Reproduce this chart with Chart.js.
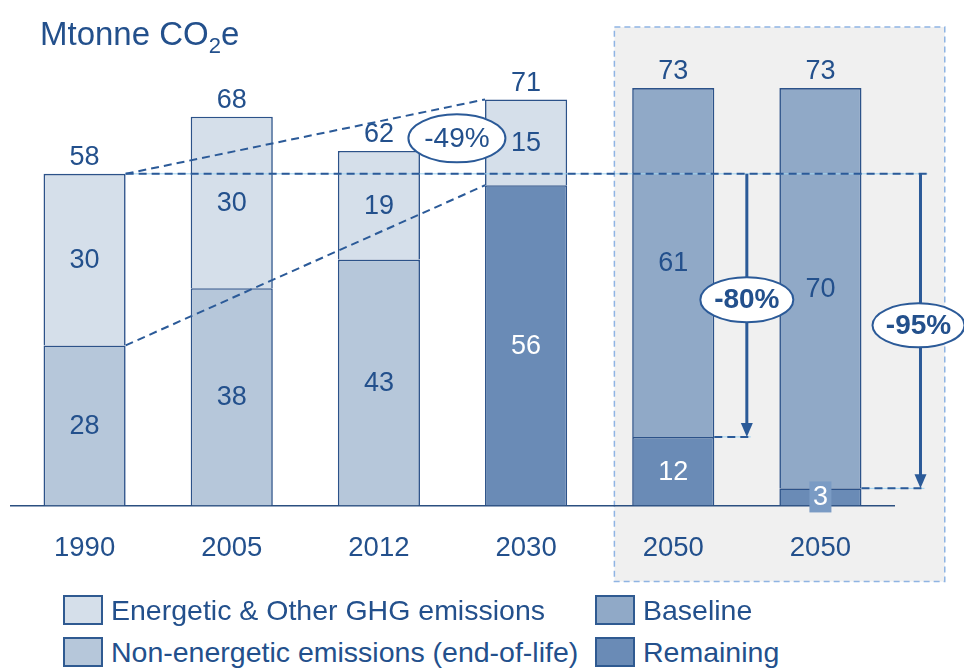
<!DOCTYPE html>
<html lang="en">
<head>
<meta charset="UTF-8">
<title>Mtonne CO2e</title>
<script src="https://cdn.jsdelivr.net/npm/chart.js"></script>
<style>
    body {
        margin: 0;
        background: #fff;
        font-family: 'Liberation Sans', Arial, sans-serif;
        color: #23508c;
    }
    #wrap { position: relative; width: 964px; height: 669px; overflow: hidden; }
    #chart { position: absolute; left: 0; top: 0; }
    .title {
        position: absolute; left: 40px; top: 18px;
        font-size: 33px; line-height: 32px; margin: 0; font-weight: normal;
    }
    .title sub { font-size: 22px; vertical-align: -8px; line-height: 0; }
    .item {
        position: absolute; display: flex; align-items: center; height: 30px;
        font-size: 28.5px; white-space: nowrap;
    }
    .item span.box {
        width: 36px; height: 26px; border: 2px solid #2f5a91; margin-right: 8px;
    }
</style>
</head>
<body>
<div id="wrap">
    <canvas id="chart" width="964" height="600"></canvas>
    <div class="title">Mtonne CO<sub>2</sub>e</div>
    <div id="legend"></div>
</div>

<script>
// categories and values (Mtonne CO2e)
const years = ["1990", "2005", "2012", "2030", "2050", "2050"];
const nonEnergetic = [28, 38, 43, null, null, null];
const remaining = [null, null, null, 56, 12, 3];
const energetic = [30, 30, 19, 15, null, null];
const baseline = [null, null, null, null, 61, 70];
const totals = [58, 68, 62, 71, 73, 73];
const cuts = ["-49%", "-80%", "-95%"];

const dark = "#23508c";
const line = "#2b5a98";
const colors = {
    energetic: "#d5dfea",
    nonEnergetic: "#b6c7da",
    baseline: "#90a9c7",
    remaining: "#6a8bb6"
};

// legend (2 columns)
const legendItems = [
    { label: "Energetic & Other GHG emissions", color: colors.energetic, left: 63, top: 595 },
    { label: "Baseline", color: colors.baseline, left: 595, top: 595 },
    { label: "Non-energetic emissions (end-of-life)", color: colors.nonEnergetic, left: 63, top: 637 },
    { label: "Remaining", color: colors.remaining, left: 595, top: 637 }
];
const legendEl = document.getElementById("legend");
legendItems.forEach(it => {
    const d = document.createElement("div");
    d.className = "item";
    d.style.left = it.left + "px";
    d.style.top = it.top + "px";
    d.innerHTML = '<span class="box" style="background:' + it.color + '"></span>' + it.label;
    legendEl.appendChild(d);
});

function dashed(ctx, x1, y1, x2, y2, under) {
    if (under) {
        ctx.save();
        ctx.strokeStyle = "#9fd4f2";
        ctx.lineWidth = 1;
        ctx.beginPath(); ctx.moveTo(x1, y1); ctx.lineTo(x2, y2); ctx.stroke();
        ctx.restore();
    }
    ctx.save();
    ctx.strokeStyle = line;
    ctx.lineWidth = 2;
    ctx.setLineDash([8, 5]);
    ctx.beginPath(); ctx.moveTo(x1, y1); ctx.lineTo(x2, y2); ctx.stroke();
    ctx.restore();
}

function arrow(ctx, x, y1, y2) {
    ctx.save();
    ctx.strokeStyle = line;
    ctx.fillStyle = line;
    ctx.lineWidth = 3;
    ctx.beginPath(); ctx.moveTo(x, y1); ctx.lineTo(x, y2 - 12); ctx.stroke();
    ctx.beginPath();
    ctx.moveTo(x - 6, y2 - 14); ctx.lineTo(x + 6, y2 - 14); ctx.lineTo(x, y2);
    ctx.closePath(); ctx.fill();
    ctx.restore();
}

function bubble(ctx, x, y, w, h, text, bold) {
    ctx.save();
    ctx.beginPath();
    ctx.ellipse(x, y, w / 2, h / 2, 0, 0, Math.PI * 2);
    ctx.fillStyle = "#fff";
    ctx.fill();
    ctx.lineWidth = 2;
    ctx.strokeStyle = line;
    ctx.stroke();
    ctx.fillStyle = dark;
    ctx.font = (bold ? "bold " : "") + "28px 'Liberation Sans', Arial, sans-serif";
    ctx.textAlign = "center";
    ctx.textBaseline = "middle";
    ctx.fillText(text, x, y + 1);
    ctx.restore();
}

// grey dashed panel behind the two 2050 bars
const panelPlugin = {
    id: "panel",
    beforeDraw(chart) {
        const { ctx, scales: { x, y }, chartArea } = chart;
        const step = x.getPixelForValue(5) - x.getPixelForValue(4);
        const left = x.getPixelForValue(4) - 0.4 * step;
        const right = x.getPixelForValue(5) + 0.845 * step;
        const top = y.getPixelForValue(80) - 21;
        const bottom = chartArea.bottom + 76;
        ctx.save();
        ctx.fillStyle = "#f0f0f0";
        ctx.fillRect(left, top, right - left, bottom - top);
        ctx.strokeStyle = "#8fb4e3";
        ctx.lineWidth = 1.5;
        ctx.setLineDash([6, 4]);
        ctx.strokeRect(left, top, right - left, bottom - top);
        ctx.restore();
    }
};

const notesPlugin = {
    id: "notes",
    afterDatasetsDraw(chart) {
        const { ctx, scales: { x, y } } = chart;
        const font = "27px 'Liberation Sans', Arial, sans-serif";

        // values inside segments
        chart.data.datasets.forEach((ds, di) => {
            const meta = chart.getDatasetMeta(di);
            meta.data.forEach((bar, i) => {
                const v = ds.data[i];
                if (v == null) return;
                const cy = (bar.y + bar.base) / 2;
                ctx.save();
                ctx.font = font;
                ctx.textAlign = "center";
                ctx.textBaseline = "middle";
                if (v < 5) {
                    ctx.fillStyle = "#7a9bc4";
                    ctx.fillRect(bar.x - 11, cy - 15.5, 22, 31);
                }
                ctx.fillStyle = ds.labelColor;
                ctx.fillText(String(v), bar.x, cy + 1);
                ctx.restore();
            });
        });

        // totals above bars
        const metaTop = chart.getDatasetMeta(0);
        totals.forEach((t, i) => {
            const bx = metaTop.data[i].x;
            ctx.save();
            ctx.font = font;
            ctx.fillStyle = dark;
            ctx.textAlign = "center";
            ctx.textBaseline = "middle";
            ctx.fillText(String(t), bx, y.getPixelForValue(t) - 16);
            ctx.restore();
        });

        const bars = metaTop.data;
        const half = bars[0].width / 2;
        const step = x.getPixelForValue(1) - x.getPixelForValue(0);
        const r0 = bars[0].x + half;
        const l3 = bars[3].x - half;
        const y1990 = y.getPixelForValue(totals[0]);

        // -49% fan lines
        dashed(ctx, r0, y1990, l3, y.getPixelForValue(totals[3]));
        dashed(ctx, r0, y.getPixelForValue(nonEnergetic[0]), l3, y.getPixelForValue(remaining[3]));

        // 1990 reference level and reduction arrows
        const ax1 = (bars[4].x + bars[5].x) / 2;
        const ax2 = bars[5].x + 0.68 * step;
        dashed(ctx, r0, y1990, ax2 + 7, y1990, true);
        const y12 = y.getPixelForValue(remaining[4]);
        const y3 = y.getPixelForValue(remaining[5]);
        dashed(ctx, bars[4].x + half, y12, ax1 + 4, y12, true);
        dashed(ctx, bars[5].x + half, y3, ax2 + 4, y3, true);
        arrow(ctx, ax1, y1990, y12);
        arrow(ctx, ax2, y1990, y3);

        bubble(ctx, x.getPixelForValue(2) + 0.53 * step, y.getPixelForValue(64.2), 97, 48, cuts[0], false);
        bubble(ctx, ax1, y.getPixelForValue(36), 93, 45, cuts[1], true);
        bubble(ctx, ax2 - 2, y.getPixelForValue(31.5), 92, 44, cuts[2], true);
    }
};

const common = {
    borderColor: "#2c5289",
    borderWidth: { top: 1.6, left: 1.6, right: 1.6, bottom: 0 },
    borderSkipped: false,
    barPercentage: 0.558,
    categoryPercentage: 1
};

new Chart(document.getElementById("chart"), {
    type: "bar",
    data: {
        labels: years,
        datasets: [
            Object.assign({ label: "Non-energetic emissions (end-of-life)", data: nonEnergetic, backgroundColor: colors.nonEnergetic, labelColor: dark }, common),
            Object.assign({ label: "Remaining", data: remaining, backgroundColor: colors.remaining, labelColor: "#fff" }, common),
            Object.assign({ label: "Energetic & Other GHG emissions", data: energetic, backgroundColor: colors.energetic, labelColor: dark }, common),
            Object.assign({ label: "Baseline", data: baseline, backgroundColor: colors.baseline, labelColor: dark }, common)
        ]
    },
    options: {
        responsive: false,
        animation: false,
        devicePixelRatio: 1,
        layout: { padding: { left: 11, right: 70, top: 48, bottom: 9.5 } },
        plugins: { legend: { display: false }, tooltip: { enabled: false } },
        scales: {
            x: {
                stacked: true,
                grid: { display: false, drawTicks: false },
                border: { display: true, color: "#2b4f80", width: 1.5 },
                ticks: { color: dark, padding: 26, font: { size: 27.5, family: "'Liberation Sans', Arial, sans-serif" } }
            },
            y: { stacked: true, display: false, min: 0, max: 80 }
        }
    },
    plugins: [panelPlugin, notesPlugin]
});
</script>
</body>
</html>
